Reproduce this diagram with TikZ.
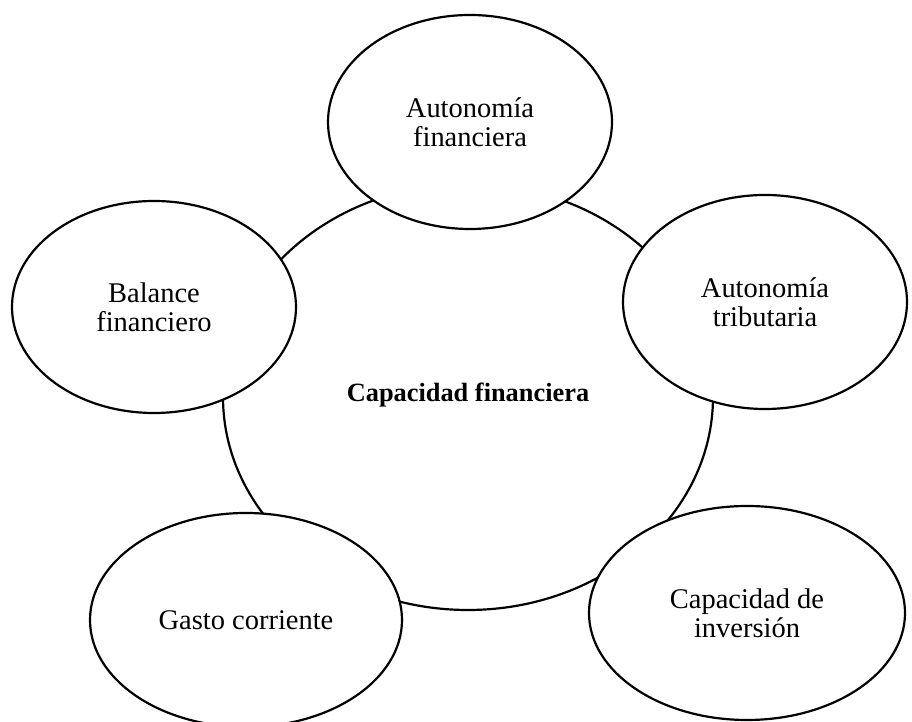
\documentclass[tikz,border=0pt]{standalone}
\usepackage{fontspec}
\setmainfont{Liberation Serif}
\usepackage{tikz}
\usetikzlibrary{shapes.geometric}

\begin{document}
\begin{tikzpicture}[
		core/.style={ellipse, draw, line width=1.25pt, inner sep=0pt, minimum width=9.8cm, minimum height=8.52cm},
		satellite/.style={ellipse, draw, fill=white, line width=1.25pt, inner sep=0pt, minimum height=4.28cm, align=center, font=\fontsize{16.2}{16.4}\selectfont}
	]
	\useasboundingbox (0,0) rectangle (18.24,14.44);
	
	% Central ellipse
	\node[core] (capfin) at (9.36,6.50) {};
	\node (capfintext) at (9.36,6.54) {\fontsize{15}{16.4}\selectfont\textbf{Capacidad financiera}};
	
	% Surrounding ellipses
	\node[satellite, minimum width=5.68cm] (autfin) at (9.40,12.00) {Autonomía\\financiera};
	\node[satellite, minimum width=5.68cm] (auttri) at (15.30,8.40) {Autonomía\\tributaria};
	\node[satellite, minimum width=5.68cm, minimum height=4.24cm] (balfin) at (3.08,8.30) {Balance\\financiero};
	\node[satellite, minimum width=6.24cm] (gasto) at (4.92,2.04) {Gasto corriente};
	\node[satellite, minimum width=6.32cm] (capinv) at (14.94,2.18) {Capacidad de\\inversión};
\end{tikzpicture}
\end{document}
